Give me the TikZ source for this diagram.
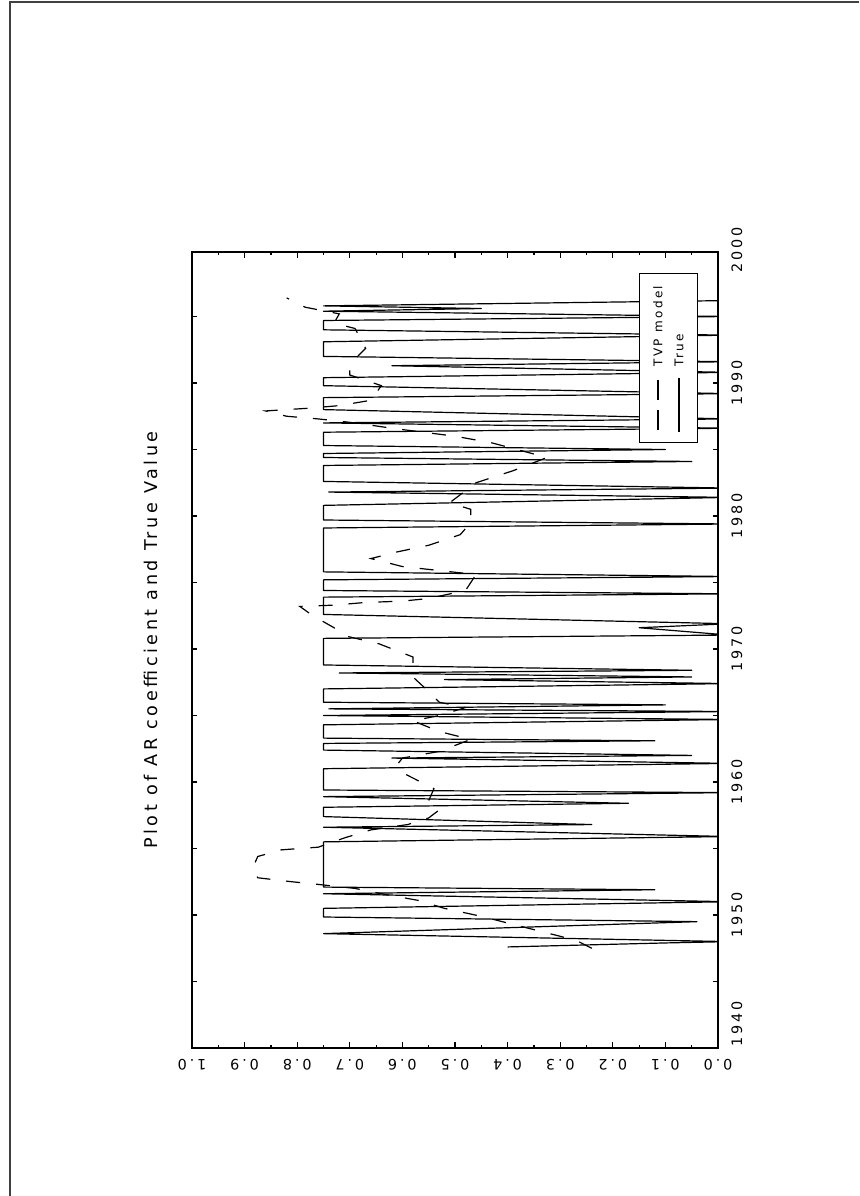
\documentclass[tikz,border=0pt]{standalone}
\usepackage{fontspec}
\newfontfamily\plotfont[LetterSpace=20]{DejaVu Sans}
\usepackage{tikz}
\usetikzlibrary{calc}
\tikzstyle{frame} = [draw, line width=0.9pt]
\tikzstyle{pagerule} = [draw=black!75, line width=0.7pt]
\tikzstyle{tickmark} = [draw, line width=0.6pt]
\tikzstyle{truecurve} = [draw, line width=0.6pt, line join=round]
\tikzstyle{tvpcurve} = [draw, line width=0.6pt, dash pattern=on 7pt off 8pt]
\tikzstyle{yearlabel} = [font=\plotfont\fontsize{7.2}{8}\selectfont, rotate=90, inner sep=0pt]
\tikzstyle{valuelabel} = [font=\plotfont\fontsize{7.2}{8}\selectfont, rotate=180, inner sep=0pt]
\tikzstyle{legendtext} = [font=\plotfont\fontsize{6}{7}\selectfont, rotate=90, anchor=west, inner sep=0pt]

\begin{document}
\begin{tikzpicture}[x=0.5pt, y=-0.5pt]
    \useasboundingbox (0,0) rectangle (859,1196);
    % page edge
    \draw [pagerule] (10,1196) -- (10,2) -- (859,2);

    \node [font=\plotfont\fontsize{8.8}{10}\selectfont, rotate=90, inner sep=0pt] (title) at (151,640) {Plot of AR coefficient and True Value};

    % plot area: x = years after 1940, y = coefficient
    \begin{scope}[shift={(718,1048)}, x={(0pt,6.65pt)}, y={(-263pt,0pt)}]
    \draw [frame] (0,0) rectangle (59.85,1);
    \foreach \yr in {5,10,...,55} {
        \draw [tickmark] (\yr,0) -- ++(0,0.0095);
        \draw [tickmark] (\yr,1) -- ++(0,-0.0095);
    }
    \foreach \v in {0.1,0.2,...,0.95} {
        \draw [tickmark] (0,\v) -- ++(0.45,0);
        \draw [tickmark] (59.85,\v) -- ++(-0.45,0);
    }
    \foreach \v in {0.05,0.15,...,0.96} {
        \draw [tickmark] (0,\v) -- ++(0.23,0);
        \draw [tickmark] (59.85,\v) -- ++(-0.23,0);
    }

    % axis labels
    \node [yearlabel] (y1940) at (1.8,-0.036) {1940};
    \node [yearlabel] (y1950) at (10,-0.036) {1950};
    \node [yearlabel] (y1960) at (20,-0.036) {1960};
    \node [yearlabel] (y1970) at (30,-0.036) {1970};
    \node [yearlabel] (y1980) at (40,-0.036) {1980};
    \node [yearlabel] (y1990) at (50,-0.036) {1990};
    \node [yearlabel] (y2000) at (60,-0.036) {2000};
    \foreach \v/\txt in {0/0.0,0.1/0.1,0.2/0.2,0.3/0.3,0.4/0.4,0.5/0.5,0.6/0.6,0.7/0.7,0.8/0.8,0.9/0.9,1/1.0} {
        \node [valuelabel] (v\txt) at (-1.28,\v) {\txt};
    }

    % series
    \begin{scope}
    \clip (0,0) rectangle (59.85,1);
    \draw [truecurve] plot coordinates {
        (7.6,.40) (7.9,.10) (8.0,-.02) (8.6,.75) (9.5,.04) (9.85,.75) (10.5,.75)
        (11.0,-.02) (11.6,.75) (11.9,.12) (12.1,.75) (15.5,.75) (15.9,-.02)
        (16.6,.75) (16.8,.24) (17.4,.75) (18.1,.75) (18.4,.17) (18.9,.75)
        (19.2,-.02) (19.4,.75) (21.0,.75) (21.4,-.02) (21.8,.62) (22.0,.05)
        (22.4,.75) (22.9,.75) (23.1,.12) (23.3,.75) (24.3,.75) (24.7,-.02)
        (25.0,.75) (25.3,-.02) (25.5,.74) (25.8,.10) (26.0,.75) (27.0,.75)
        (27.4,-.02) (27.7,.52) (27.9,.05) (28.2,.72) (28.4,.05) (28.8,.75)
        (30.8,.75) (31.05,-.02) (31.6,.15) (31.9,-.02) (32.6,.75) (33.9,.75)
        (34.15,-.02) (34.4,.75) (35.2,.75) (35.45,-.02) (35.8,.75) (39.1,.75)
        (39.4,-.02) (39.7,.75) (40.8,.75) (41.4,-.02) (41.8,.74) (42.1,-.02)
        (42.6,.75) (43.8,.75) (44.1,.05) (44.4,.75) (44.7,.75) (45.0,.10)
        (45.3,.75) (46.3,.75) (46.6,-.02) (47.0,.75) (47.3,-.02) (48.0,.75)
        (48.9,.75) (49.2,-.02) (49.8,.75) (50.4,.75) (50.8,-.02) (51.3,.62)
        (51.6,-.02) (52.0,.75) (53.1,.75) (53.6,-.02) (54.0,.75) (54.7,.75)
        (55.0,-.02) (55.4,.75) (55.6,.45) (55.8,.75) (56.2,-.02) (56.6,-.02)};
    \draw [tvpcurve] plot coordinates {
        (7.5,.24) (8.1,.27) (8.7,.33) (9.3,.39) (9.9,.45) (10.5,.52) (11.1,.57)
        (11.6,.64) (12.0,.69) (12.3,.76) (12.5,.81) (12.8,.875) (13.5,.885)
        (14.4,.875) (14.9,.83) (15.1,.76) (15.8,.71) (16.4,.66) (16.8,.59)
        (17.3,.55) (17.9,.53) (18.6,.55) (19.5,.54) (20.1,.57) (20.7,.60)
        (21.3,.61) (21.8,.60) (22.3,.53) (23.2,.47) (23.8,.53) (24.6,.58)
        (25.0,.53) (25.6,.48) (26.0,.53) (26.8,.55) (27.9,.58) (28.7,.58)
        (29.4,.58) (30.4,.645) (31.0,.71) (31.6,.73) (32.5,.77) (33.2,.795)
        (33.3,.73) (33.5,.67) (33.6,.60) (33.8,.55) (34.4,.48) (35.6,.46)
        (36.2,.60) (36.8,.66) (37.3,.61) (37.8,.55) (38.6,.49) (39.5,.47)
        (40.5,.47) (41.0,.51) (42.5,.46) (43.4,.39) (44.4,.325) (45.5,.43)
        (46.0,.50) (46.6,.62) (47.0,.69) (47.3,.76) (47.5,.82) (47.9,.86)
        (48.1,.78) (48.3,.72) (48.7,.66) (49.8,.64) (50.6,.70) (51.4,.70)
        (52.6,.67) (54.1,.69) (54.5,.73) (55.2,.72) (55.7,.785) (56.4,.82)};
    \end{scope}
    \end{scope}

    % legend
    \node [draw, fill=white, line width=0.5pt, minimum width=29pt, minimum height=84.5pt, inner sep=0pt] (legend) at (668,357.5) {};
    \draw [line width=0.55pt, dash pattern=on 10pt off 5pt] (658,430) -- (658,380);
    \node [legendtext] (tvp) at (658,367) {TVP model};
    \draw [line width=0.55pt] (679,432) -- (679,378);
    \node [legendtext] (truth) at (679,367) {True};
\end{tikzpicture}
\end{document}
